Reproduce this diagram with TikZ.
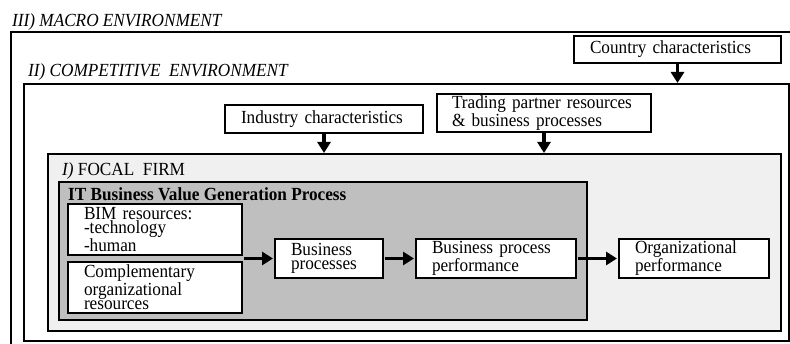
\documentclass[tikz,border=0pt]{standalone}
\usepackage{fontspec}
\setmainfont[FakeStretch=0.93]{Liberation Serif}
\usetikzlibrary{arrows.meta}
\newcommand\figfont{\fontsize{18.5}{14}\selectfont}
\begin{document}
\begin{tikzpicture}[x=1pt,y=-1pt,
  frame/.style={draw, line width=1.8pt, anchor=north west, outer sep=0pt, inner sep=0pt},
  box/.style={draw, fill=white, line width=1.6pt, anchor=north west, outer sep=0pt,
    inner xsep=16pt, inner ysep=0pt, align=left, font=\figfont},
  lbl/.style={anchor=west, inner sep=0pt, font=\figfont},
  bigarrow/.style={line width=3.6pt, -{Triangle[width=13pt,length=11pt]},
    shorten <=2pt, shorten >=2pt},
  downarrow/.style={bigarrow, shorten <=0pt, shorten >=1pt}]
\useasboundingbox (0,0) rectangle (790,344);
\fill[white] (0,0) rectangle (790,344);

% nested environment frames
\begin{scope}
  \clip (0,0) rectangle (790,344);
  \node[frame, minimum width=800pt, minimum height=330pt] (macro) at (11,32) {};
\end{scope}
\node[frame, minimum width=765pt, minimum height=257pt] (compenv) at (24,84) {};
\node[frame, fill=black!6, minimum width=733pt, minimum height=177pt] (focal) at (48,154) {};
\node[frame, fill=black!25, minimum width=528pt, minimum height=138pt] (itproc) at (59,182) {};

% frame titles
\node[lbl] (macrolbl) at (12,22) {\textit{III) MACRO ENVIRONMENT}};
\node[lbl] (complbl) at (28,72) {\textit{II) COMPETITIVE\ \ ENVIRONMENT}};
\node[lbl] (focallbl) at (62,171) {\textit{I)} FOCAL\ \ FIRM};
\node[lbl] (itlbl) at (68,194) {\textbf{IT\ Business Value\ Generation\ Process}};

% external factor boxes
\node[box, minimum width=207pt, minimum height=27pt, text width=175pt] (country) at (574,36) {Country characteristics};
\node[box, minimum width=198pt, minimum height=28pt, text width=166pt] (industry) at (225,105) {Industry characteristics};
\node[box, inner xsep=15pt, minimum width=214pt, minimum height=38pt, text width=184pt] (trading) at (437,94) {Trading partner resources\\\& business processes};

% value generation chain
\node[box, minimum width=174pt, minimum height=51pt, text width=142pt] (bim) at (68,204) {BIM resources:\\-technology\\-human};
\node[box, minimum width=174pt, minimum height=51pt, text width=142pt] (compl) at (68,262) {Complementary\\organizational\\resources};
\node[box, minimum width=108pt, minimum height=39pt, text width=76pt] (bp) at (275,239) {Business\\processes};
\node[box, minimum width=160pt, minimum height=39pt, text width=128pt] (bpp) at (416,239) {Business process\\performance};
\node[box, minimum width=150pt, minimum height=39pt, text width=118pt] (org) at (619,239) {Organizational\\performance};

% arrows
\draw[downarrow] (country.south) -- (country.south |- compenv.north);
\draw[downarrow] (industry.south) -- (industry.south |- focal.north);
\draw[downarrow] (trading.south) -- (trading.south |- focal.north);
\draw[bigarrow] (bp.west -| bim.east) -- (bp.west);
\draw[bigarrow] (bp) -- (bpp);
\draw[bigarrow] (bpp) -- (org);
\end{tikzpicture}
\end{document}
